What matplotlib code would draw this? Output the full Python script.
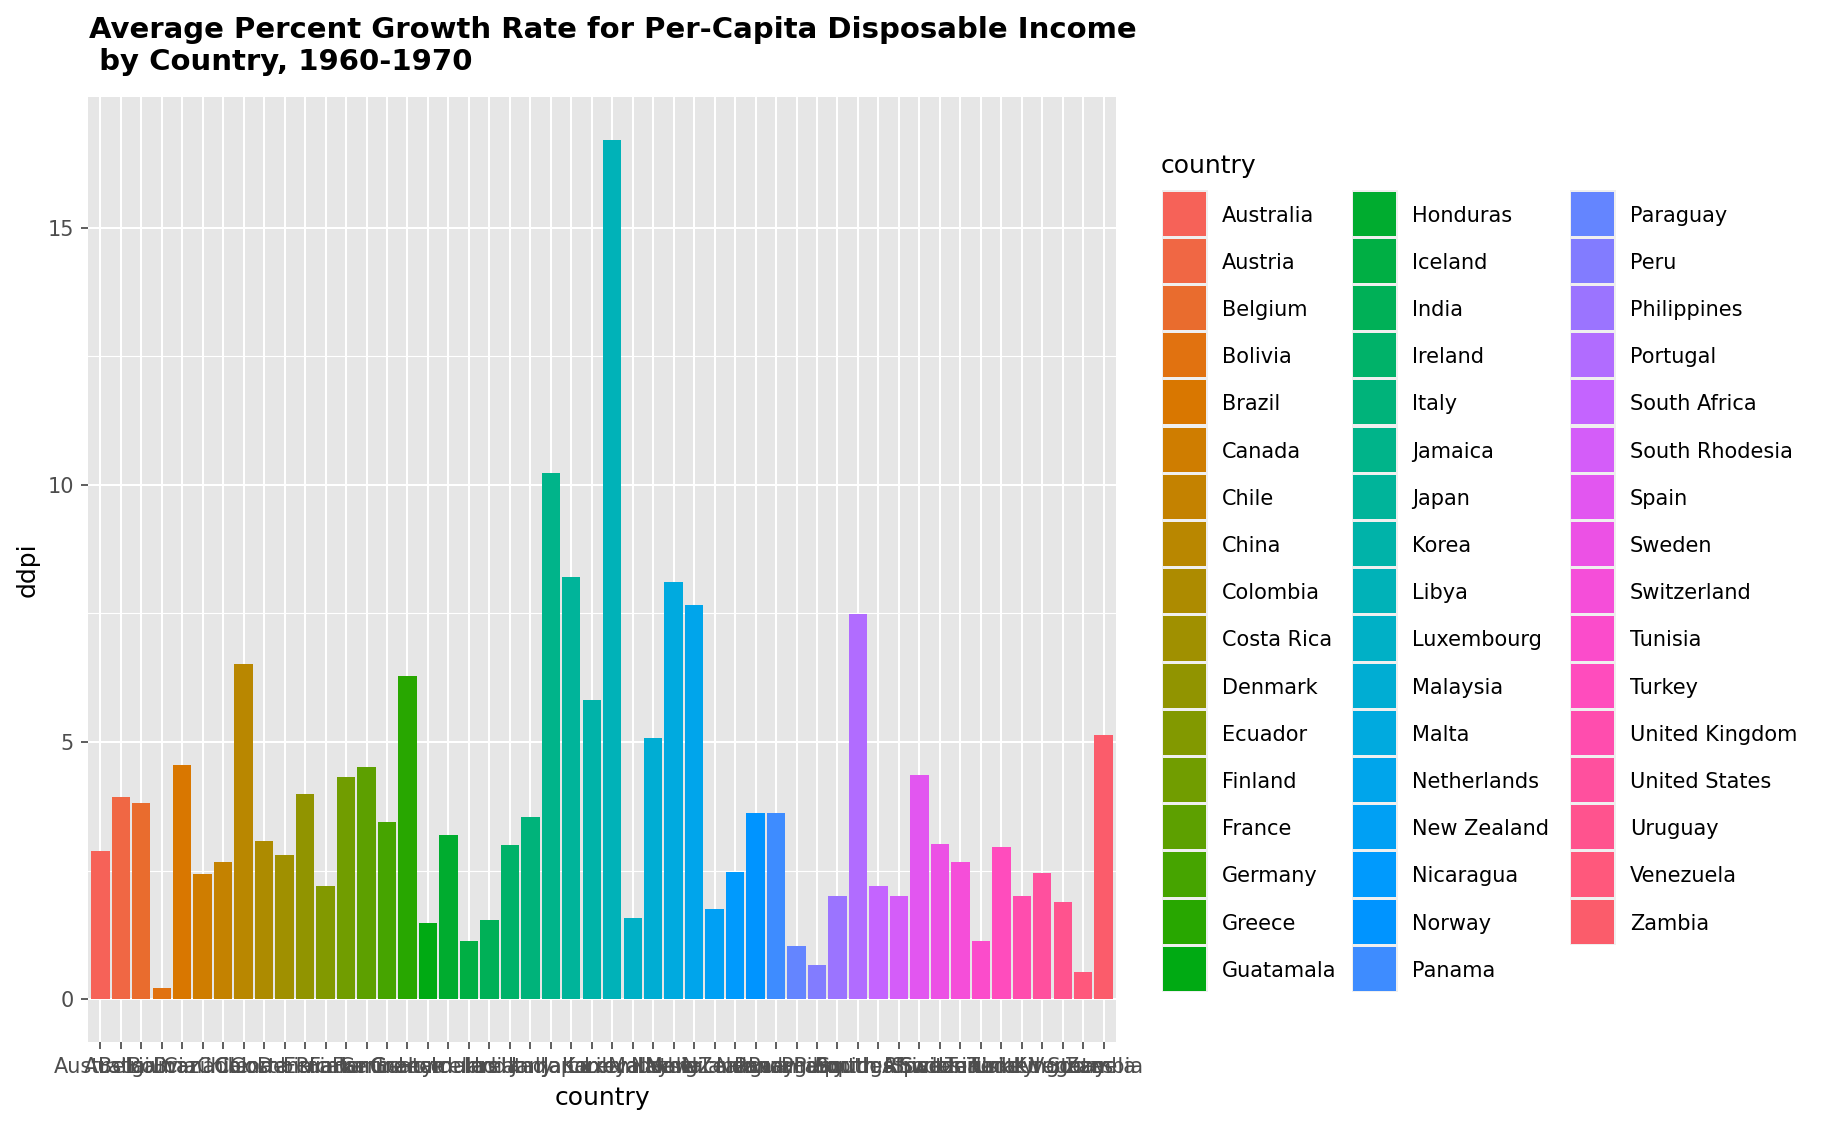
import numpy as np
import matplotlib
matplotlib.use("Agg")
import matplotlib.pyplot as plt
from matplotlib.patches import Rectangle

countries = ["Australia", "Austria", "Belgium", "Bolivia", "Brazil", "Canada", "Chile",
             "China", "Colombia", "Costa Rica", "Denmark", "Ecuador", "Finland", "France",
             "Germany", "Greece", "Guatamala", "Honduras", "Iceland", "India", "Ireland",
             "Italy", "Jamaica", "Japan", "Korea", "Libya", "Luxembourg", "Malaysia", "Malta",
             "Netherlands", "New Zealand", "Nicaragua", "Norway", "Panama", "Paraguay", "Peru",
             "Philippines", "Portugal", "South Africa", "South Rhodesia", "Spain", "Sweden",
             "Switzerland", "Tunisia", "Turkey", "United Kingdom", "United States", "Uruguay",
             "Venezuela", "Zambia"]
ddpi = [2.87, 3.93, 3.82, 0.22, 4.56, 2.43, 2.67, 6.51, 3.08, 2.80, 3.99, 2.19, 4.32, 4.52,
        3.44, 6.28, 1.48, 3.19, 1.12, 1.54, 2.99, 3.54, 10.23, 8.21, 5.81, 16.71, 1.57, 5.08,
        8.12, 7.66, 1.76, 2.48, 3.62, 3.61, 1.03, 0.67, 2.00, 7.48, 2.19, 2.00, 4.35, 3.01,
        2.66, 1.13, 2.96, 2.01, 2.45, 1.88, 0.53, 5.14]

title_lines = ["Average Percent Growth Rate for Per-Capita Disposable Income",
               " by Country, 1960-1970"]

TONE = 1.25  # the reference renders colours a little deeper than plain sRGB


def hcl_hex(h, c=100.0, l=65.0):
    # polar LUV -> sRGB, same as R's hcl()
    wy, wu, wv = 100.0, 0.1978398, 0.4683363
    hr = np.radians(h)
    U, V = c * np.cos(hr), c * np.sin(hr)
    Y = wy * ((l + 16) / 116) ** 3 if l > 7.999592 else wy * l / 903.3
    t = wu + U / (13 * l)
    x = wv + V / (13 * l)
    X = 9.0 * Y * t / (4 * x)
    Z = -X / 3 - 5 * Y + 3 * Y / x

    def g(u):
        return 1.055 * u ** (1 / 2.4) - 0.055 if u > 0.00304 else 12.92 * u

    r = g((3.240479 * X - 1.537150 * Y - 0.498535 * Z) / wy)
    gg = g((-0.969256 * X + 1.875992 * Y + 0.041556 * Z) / wy)
    b = g((0.055648 * X - 0.204043 * Y + 1.057311 * Z) / wy)
    return tone((r, gg, b))


def tone(rgb):
    vals = [int(255 * min(max(v, 0), 1) ** TONE + 0.5) for v in rgb]
    return "#%02X%02X%02X" % tuple(vals)


n = len(countries)
hues = np.linspace(15, 375, n + 1)[:n]
colors = [hcl_hex(h) for h in hues]
panel_bg = tone((0.922, 0.922, 0.922))
key_bg = tone((0.949, 0.949, 0.949))

plt.rcParams['font.family'] = ['DejaVu Sans']

W, H = 1824, 1127
fig = plt.figure(figsize=(W / 100, H / 100), dpi=100)
fig.patch.set_facecolor("white")

# panel in pixels: left 88, right 1116, top 97, bottom 1042
ax = fig.add_axes([88 / W, 1 - 1042 / H, (1116 - 88) / W, (1042 - 97) / H])
ax.set_facecolor(panel_bg)
ax.bar(countries, ddpi, width=0.9, color=colors, linewidth=0, zorder=2)

ymax = max(ddpi)
ax.set_xlim(-0.6, n - 0.4)
ax.set_ylim(-0.05 * ymax, 1.05 * ymax)
ax.set_yticks([0, 5, 10, 15])
ax.set_yticks([2.5, 7.5, 12.5], minor=True)
ax.set_axisbelow(True)
ax.grid(True, which="major", color="white", linewidth=1.45)
ax.grid(True, which="minor", axis="y", color="white", linewidth=0.8)
for s in ax.spines.values():
    s.set_visible(False)
ax.tick_params(which="major", length=5, width=1.1, color="#333333",
               labelsize=15, labelcolor="#4D4D4D")
ax.tick_params(axis="x", pad=5.5)
ax.tick_params(axis="y", pad=5)
ax.tick_params(which="minor", length=0)

ax.set_xlabel("country", fontsize=18, color="black", va="center")
ax.xaxis.set_label_coords(0.5, (1042 - 1098) / (1042 - 97))
ax.set_ylabel("ddpi", fontsize=18, color="black", va="center")
ax.yaxis.set_label_coords((28 - 88) / (1116 - 88), 0.5)

fig.text(89 / W, 1 - 38 / H, title_lines[0], fontsize=21, fontweight="bold",
         ha="left", va="baseline")
fig.text(89 / W, 1 - 70 / H, title_lines[1], fontsize=21, fontweight="bold",
         ha="left", va="baseline")

# legend, drawn in pixel coordinates
lax = fig.add_axes([0, 0, 1, 1])
lax.set_xlim(0, W)
lax.set_ylim(H, 0)
lax.axis("off")
lax.text(1161, 173, "country", fontsize=18, ha="left", va="baseline")
col_x = [1162, 1352, 1570]
rows = 17
pitch = 47.2
for i, (name, col) in enumerate(zip(countries, colors)):
    c, r = divmod(i, rows)
    x0 = col_x[c]
    y0 = 190 + r * pitch
    lax.add_patch(Rectangle((x0, y0), 46, pitch, facecolor=key_bg, edgecolor="none"))
    lax.add_patch(Rectangle((x0 + 1.5, y0 + 1.5), 43, pitch - 3, facecolor=col,
                            edgecolor="none"))
    lax.text(x0 + 60, y0 + 31.5, name, fontsize=15, ha="left", va="baseline")

fig.savefig("out.png", dpi=100)
